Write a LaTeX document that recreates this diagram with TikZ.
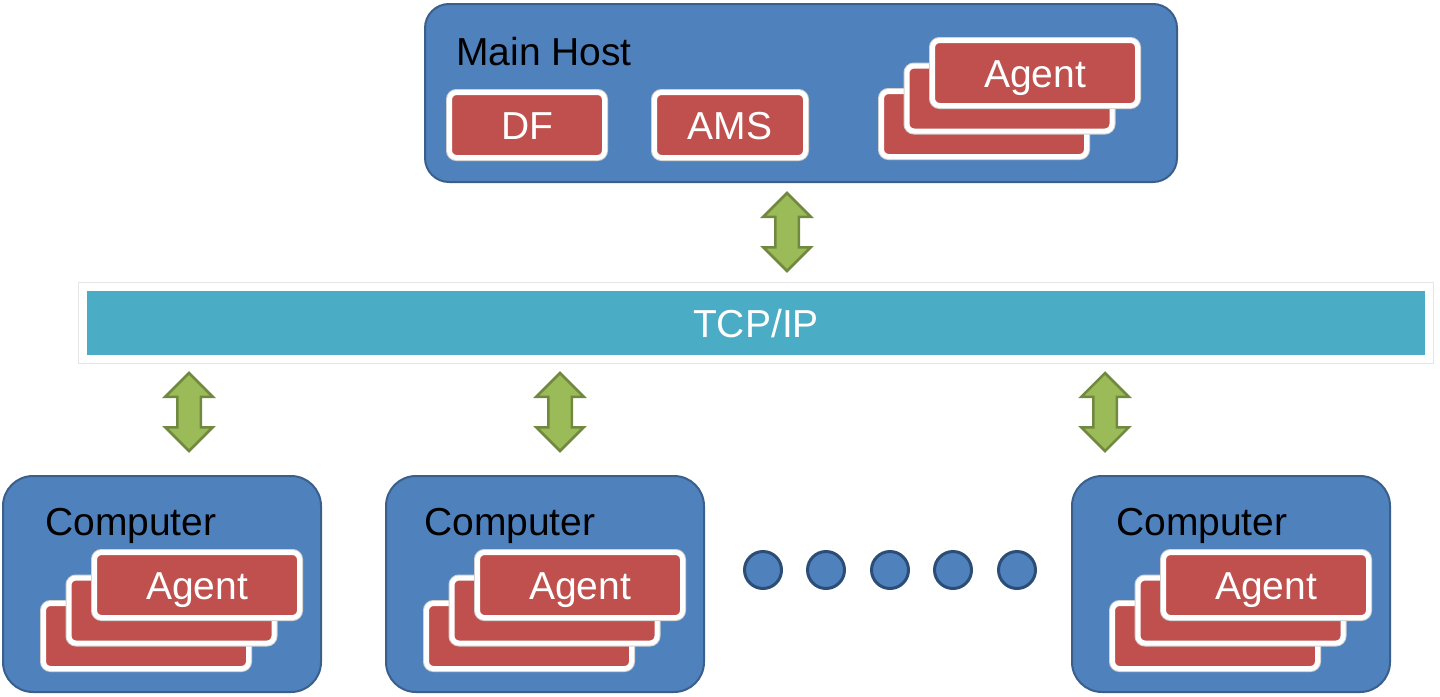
\documentclass[tikz,border=0pt]{standalone}
\usepackage{fontspec}
\setmainfont{Liberation Sans}
\usetikzlibrary{shapes.arrows}
\definecolor{HostBlue}{HTML}{4F81BD}
\definecolor{HostFrame}{HTML}{3A5F8B}
\definecolor{AgentRed}{HTML}{C0504D}
\definecolor{BusTeal}{HTML}{4BACC6}
\definecolor{LinkGreen}{HTML}{9BBB59}
\definecolor{LinkFrame}{HTML}{71893F}
\definecolor{DotFrame}{HTML}{2C4D75}
\newcommand\bigfont{\fontsize{39pt}{44pt}\selectfont}
\tikzset{
  hostnode/.style={draw=HostFrame, fill=HostBlue, rectangle, line width=2pt,
                   inner sep=0pt},
  hostlabel/.style={anchor=base west, inner sep=0pt, font=\bigfont},
  agentcard/.style={draw=white, fill=AgentRed, rectangle, rounded corners=7pt,
                    line width=5pt, minimum width=205pt, minimum height=65pt,
                    inner sep=0pt, text=white, font=\bigfont,
                    text height=28pt, text depth=0pt,
                    preaction={draw=black!18, line width=7pt}},
  busnode/.style={draw=white, fill=BusTeal, rectangle, line width=8pt,
                  minimum width=1346pt, minimum height=72pt, inner sep=0pt,
                  text=white, font=\bigfont, text height=28pt, text depth=0pt,
                  preaction={draw=black!10, line width=10pt}},
  linkarrow/.style={double arrow, shape border rotate=90, draw=LinkFrame,
                    fill=LinkGreen, line width=2.5pt, inner sep=10.5pt,
                    double arrow head extend=12pt, double arrow tip angle=90,
                    minimum height=78pt},
  dotnode/.style={circle, draw=DotFrame, fill=HostBlue, line width=3pt,
                  minimum size=37pt, inner sep=0pt}
}

\begin{document}
\begin{tikzpicture}[x=1pt, y=-1pt]
  \useasboundingbox (0,0) rectangle (1440,696);

  % main host
  \node[hostnode, rounded corners=24pt, minimum width=752pt, minimum height=178pt] (host) at (801,93) {};
  \node[hostlabel] (hostname) at (456,65) {Main Host};
  \node[agentcard, minimum width=155pt] (df) at (527,125) {DF};
  \node[agentcard, minimum width=151pt] (ams) at (730,125) {AMS};

  % computers
  \node[hostnode, rounded corners=30pt, minimum width=318pt, minimum height=216pt] (comp1) at (162,584) {};
  \node[hostnode, rounded corners=30pt, minimum width=318pt, minimum height=216pt] (comp2) at (545,584) {};
  \node[hostnode, rounded corners=30pt, minimum width=318pt, minimum height=216pt] (comp3) at (1231,584) {};
  \node[hostlabel] (comp1name) at (45,535) {Computer};
  \node[hostlabel] (comp2name) at (424,535) {Computer};
  \node[hostlabel] (comp3name) at (1116,535) {Computer};

  % agent stacks, only the front card is labelled
  \foreach \nm/\x/\y in {hostag/1035/73, comp1ag/197/585, comp2ag/580/585, comp3ag/1266/585} {
    \node[agentcard] (\nm3) at (\x-51,\y+51) {};
    \node[agentcard] (\nm2) at (\x-25.5,\y+25.5) {};
    \node[agentcard] (\nm1) at (\x,\y) {Agent};
  }

  % network
  \node[busnode] (bus) at (756,323) {TCP/IP};

  \node[linkarrow] (link0) at (787,232) {};
  \node[linkarrow] (link1) at (189,412) {};
  \node[linkarrow] (link2) at (560,412) {};
  \node[linkarrow] (link3) at (1105,412) {};

  % more computers
  \foreach \x [count=\i] in {763,826,890,953,1017}
    \node[dotnode] (dot\i) at (\x,570) {};
\end{tikzpicture}
\end{document}
